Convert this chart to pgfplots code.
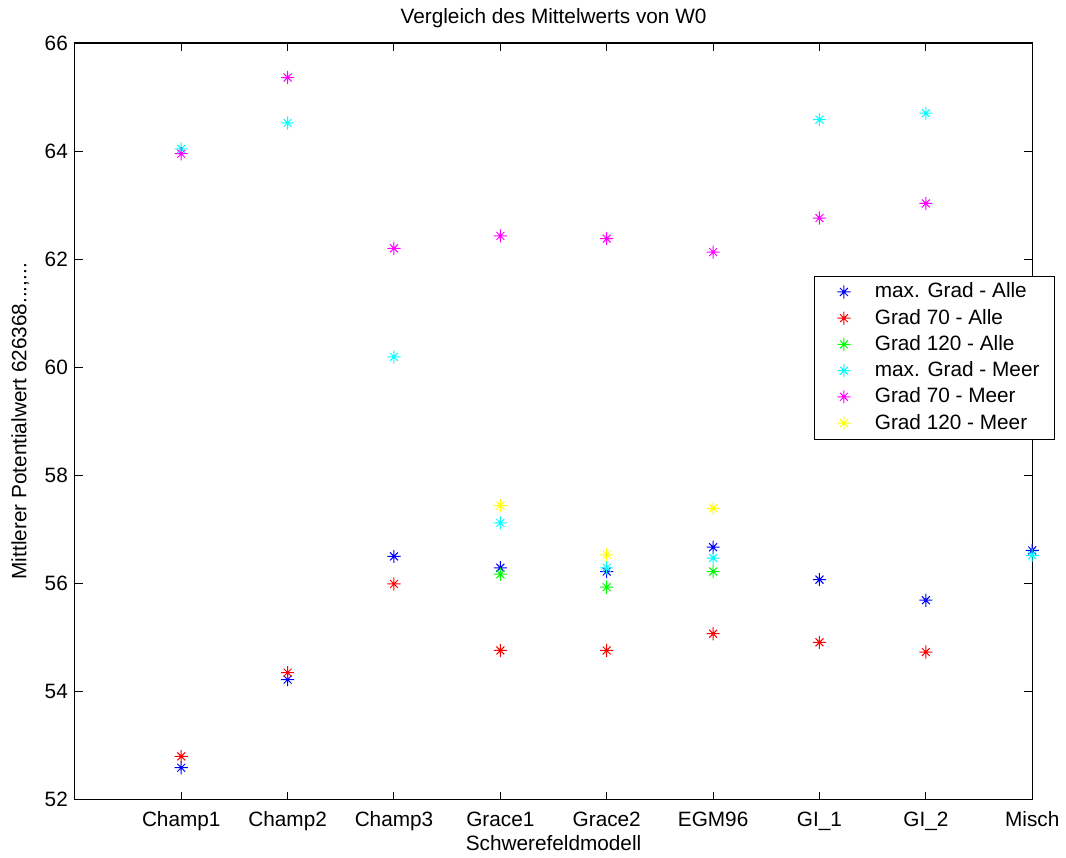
\documentclass[border=0pt]{standalone}
\usepackage{fontspec}
\setmainfont{Liberation Sans}
\usepackage{pgfplots}
\pgfplotsset{compat=1.18}

% MATLAB-style '*' marker: a plus with a smaller cross on top
\pgfdeclareplotmark{mstar}{%
  \pgfpathmoveto{\pgfqpoint{-\pgfplotmarksize}{0pt}}%
  \pgfpathlineto{\pgfqpoint{\pgfplotmarksize}{0pt}}%
  \pgfpathmoveto{\pgfqpoint{0pt}{-\pgfplotmarksize}}%
  \pgfpathlineto{\pgfqpoint{0pt}{\pgfplotmarksize}}%
  \pgfpathmoveto{\pgfqpoint{-0.6\pgfplotmarksize}{-0.6\pgfplotmarksize}}%
  \pgfpathlineto{\pgfqpoint{0.6\pgfplotmarksize}{0.6\pgfplotmarksize}}%
  \pgfpathmoveto{\pgfqpoint{-0.6\pgfplotmarksize}{0.6\pgfplotmarksize}}%
  \pgfpathlineto{\pgfqpoint{0.6\pgfplotmarksize}{-0.6\pgfplotmarksize}}%
  \pgfusepathqstroke}

\begin{document}
\begin{tikzpicture}
\begin{axis}[
    name=ax,
    scale only axis,
    width=479.5pt, height=379pt,
    xmin=0, xmax=9,
    ymin=52, ymax=66,
    xtick={1,...,9},
    xticklabels={Champ1,Champ2,Champ3,Grace1,Grace2,EGM96,GI\_1,GI\_2,Misch},
    ytick={52,54,...,66},
    tick align=inside,
    major tick length=4pt,
    axis line style={line width=0.6pt},
    tick style={black, line width=0.5pt},
    font=\fontsize{10.4}{12.5}\selectfont,
    /pgf/number format/assume math mode=true,
    xticklabel style={yshift=-2.5pt},
    xlabel={Schwerefeldmodell},
    ylabel={Mittlerer Potentialwert 626368...,...},
    xlabel style={yshift=4.5pt},
    ylabel style={yshift=1pt},
    title={Vergleich des Mittelwerts von W0},
    title style={yshift=-2pt},
    every axis plot/.append style={only marks, mark=mstar, mark size=3.3pt, line width=0.5pt},
    legend style={at={(0.7716,0.6926)}, anchor=north west, draw=black, fill=white,
        font=\fontsize{10.4}{12.5}\selectfont, row sep=0.1pt, inner xsep=5.5pt, inner ysep=1.5pt,
        cells={anchor=west}},
    legend image code/.code={\path[draw=none] (0pt,0pt) -- (23pt,0pt);
        \draw[#1] plot coordinates {(9.5pt,0pt)};},
]
\addplot[color={rgb,1:red,0;green,0;blue,1}] coordinates {
    (1,52.59) (2,54.22) (3,56.50) (4,56.29) (5,56.22) (6,56.67) (7,56.07) (8,55.69) (9,56.61)};
\addplot[color={rgb,1:red,1;green,0;blue,0}] coordinates {
    (1,52.80) (2,54.35) (3,55.99) (4,54.76) (5,54.76) (6,55.07) (7,54.91) (8,54.73)};
\addplot[color={rgb,1:red,0;green,1;blue,0}] coordinates {
    (4,56.17) (5,55.93) (6,56.22)};
\addplot[color={rgb,1:red,0;green,1;blue,1}] coordinates {
    (1,64.04) (2,64.52) (3,60.19) (4,57.12) (5,56.29) (6,56.47) (7,64.58) (8,64.70) (9,56.52)};
\addplot[color={rgb,1:red,1;green,0;blue,1}] coordinates {
    (1,63.95) (2,65.36) (3,62.20) (4,62.43) (5,62.38) (6,62.13) (7,62.76) (8,63.03)};
\addplot[color={rgb,1:red,1;green,1;blue,0}] coordinates {
    (4,57.44) (5,56.53) (6,57.39)};
\legend{max. Grad - Alle, Grad 70 - Alle, Grad 120 - Alle, max. Grad - Meer, Grad 70 - Meer, Grad 120 - Meer}
\end{axis}
\path ([xshift=-37.5pt,yshift=-27.5pt]ax.south west) rectangle ([xshift=16pt,yshift=21.5pt]ax.north east);
\end{tikzpicture}
\end{document}
